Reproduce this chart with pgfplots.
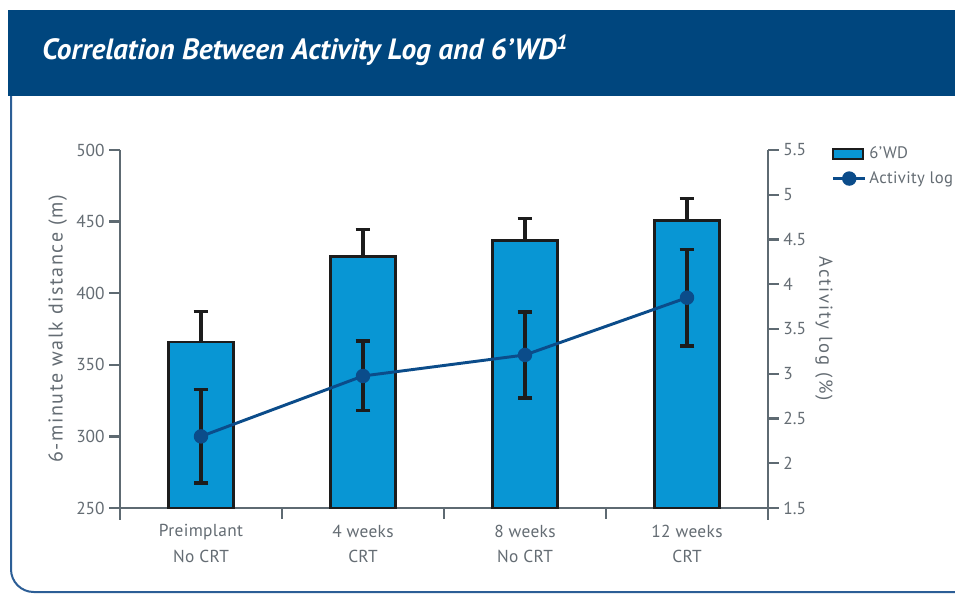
\documentclass[border=0pt]{standalone}
\usepackage{pgfplots}
\pgfplotsset{compat=1.18}
\usepackage{fontspec}
\setmainfont{PT Sans}

\definecolor{headblue}{HTML}{00467E}
\definecolor{barblue}{HTML}{0896D4}
\definecolor{lineblue}{HTML}{0B4C8A}
\definecolor{axgray}{HTML}{5E6A72}
\definecolor{txtgray}{HTML}{646C73}
\definecolor{frameblue}{HTML}{2C5E96}
\definecolor{errblack}{HTML}{1C1C1C}

\pgfplotsset{
  lineleg/.style={legend image code/.code={\draw[mark repeat=2,mark phase=2,#1] plot coordinates {(0pt,0pt) (12pt,0pt) (24pt,0pt)};}},
  barleg/.style={legend image code/.code={\draw[fill=barblue, draw=errblack, line width=1.6pt] (0pt,-4pt) rectangle (22pt,4pt);}},
}

\begin{document}
\begin{tikzpicture}
% page: 955 x 593 px, 1 px = 0.75pt
\useasboundingbox (0pt,0pt) rectangle (716.25pt,444.75pt);
\fill[white] (0pt,0pt) rectangle (716.25pt,444.75pt);
\draw[frameblue, line width=1.5pt, rounded corners=17pt] (8.25pt,372.75pt) -- (8.25pt,0.75pt) -- (716.25pt,0.75pt);
\fill[headblue] (6pt,437.25pt) rectangle (716.25pt,372.75pt);
\node[anchor=west, white, font=\bfseries\itshape\fontsize{22}{24}\selectfont]
  at (28pt,407pt) {Correlation Between Activity Log and 6’WD\textsuperscript{1}};

% 6'WD bars
\begin{axis}[
    at={(90pt,63.75pt)}, anchor=south west,
    scale only axis, width=486pt, height=268.5pt,
    xmin=0.5, xmax=4.5,
    ymin=250, ymax=500,
    axis x line*=bottom, axis y line*=left,
    axis line style={axgray, line width=1.8pt, -},
    tick style={axgray, line width=1.8pt},
    tick align=outside,
    major tick length=8pt,
    ytick={250,300,...,500},
    xtick={1.5,2.5,3.5}, xticklabels={},
    extra x ticks={1,2,3,4},
    extra x tick labels={{Preimplant\\No CRT},{4 weeks\\CRT},{8 weeks\\No CRT},{12 weeks\\CRT}},
    extra x tick style={major tick length=0pt, tick style={draw=none}},
    xticklabel style={align=center, text=txtgray, font=\fontsize{13}{19}\selectfont\addfontfeatures{LetterSpace=2}, yshift=-9pt},
    yticklabel style={text=txtgray, font=\fontsize{13}{15}\selectfont},
    /pgf/number format/assume math mode=true,
    ylabel={6-minute walk distance (m)},
    ylabel style={text=txtgray, font=\fontsize{15}{17}\selectfont\addfontfeatures{LetterSpace=8}},
    ybar, bar width=48.75pt,
    clip=false,
]
\addplot[fill=barblue, draw=errblack, line width=2pt,
    error bars/.cd, y dir=plus, y explicit,
    error bar style={errblack, line width=2.6pt},
    error mark=-, error mark options={rotate=90, errblack, line width=2.4pt, mark size=5.5pt}]
  coordinates {
    (1,366) +- (0,21)
    (2,425.5) +- (0,19)
    (3,437) +- (0,15)
    (4,451) +- (0,15)
  };
\draw[axgray, line width=1.8pt] (axis cs:0.5,250) -- ++(0pt,-9pt);
\draw[axgray, line width=1.8pt] (axis cs:4.5,250) -- ++(0pt,-9pt);
\end{axis}

% Activity log line
\begin{axis}[
    at={(90pt,63.75pt)}, anchor=south west,
    scale only axis, width=486pt, height=268.5pt,
    xmin=0.5, xmax=4.5,
    ymin=1.5, ymax=5.5,
    axis x line=none, axis y line*=right,
    axis line style={axgray, line width=1.8pt, -},
    tick style={axgray, line width=1.8pt},
    tick align=outside,
    major tick length=8pt,
    ytick={1.5,2,...,5.5},
    yticklabel style={text=txtgray, font=\fontsize{13}{15}\selectfont},
    /pgf/number format/assume math mode=true,
    ylabel={Activity log (\%)},
    ylabel style={rotate=180, text=txtgray, font=\fontsize{14}{16}\selectfont\addfontfeatures{LetterSpace=10}},
    clip=false,
    legend style={at={(rel axis cs:1.096,1.02)}, anchor=north west, draw=none, fill=none,
        font=\fontsize{12.5}{14}\selectfont\addfontfeatures{LetterSpace=2}, text=txtgray, row sep=4pt, inner sep=1pt},
    legend cell align=left,
]
\addlegendimage{barleg}
\addlegendentry{6’WD}
\addplot[lineblue, line width=2.2pt, mark=*, mark size=4.3pt, mark options={fill=lineblue, draw=lineblue},
    lineleg,
    error bars/.cd, y dir=both, y explicit,
    error bar style={errblack, line width=2.6pt},
    error mark=-, error mark options={rotate=90, errblack, line width=2.4pt, mark size=5.5pt}]
  coordinates {
    (1,2.30) +- (0,0.52)
    (2,2.975) +- (0,0.39)
    (3,3.21) +- (0,0.48)
    (4,3.85) +- (0,0.54)
  };
\addlegendentry{Activity log}
\end{axis}
\end{tikzpicture}
\end{document}
